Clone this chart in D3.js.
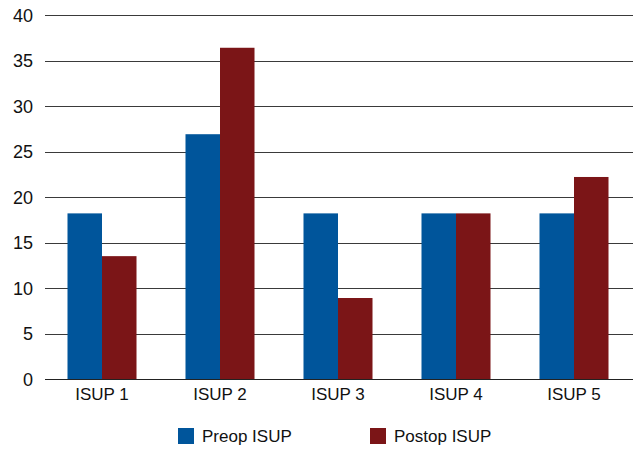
<!DOCTYPE html>
<html>
<head>
<meta charset="utf-8">
<script src="https://cdn.jsdelivr.net/npm/d3@7"></script>
<style>
  body { margin: 0; background: #fff; }
  text { font-family: "Liberation Sans", Arial, sans-serif; fill: #111; }
</style>
</head>
<body>
<div id="chart"></div>
<script>
// data
const categories = ['ISUP 1', 'ISUP 2', 'ISUP 3', 'ISUP 4', 'ISUP 5'];
const seriesNames = ['Preop ISUP', 'Postop ISUP'];
const preopValues = [18.2, 26.9, 18.2, 18.2, 18.2];
const postopValues = [13.5, 36.4, 8.9, 18.2, 22.2];
const yTicks = [0, 5, 10, 15, 20, 25, 30, 35, 40];
const colors = ['#00559b', '#7b1517'];

const W = 633, H = 450;
const MARGIN = { top: 15, right: 0, bottom: 71, left: 43 };

const svg = d3.select('#chart')
    .append('svg')
    .attr('width', W)
    .attr('height', H);

const x0 = d3.scaleBand()
    .domain(categories)
    .range([MARGIN.left, W - MARGIN.right])
    .padding(0);

const x1 = d3.scaleBand()
    .domain(seriesNames)
    .range([0, x0.bandwidth()])
    .paddingInner(0)
    .paddingOuter(0.71);

const y = d3.scaleLinear()
    .domain([0, 40])
    .range([H - MARGIN.bottom, MARGIN.top]);

// gridlines
svg.append('g')
    .selectAll('line')
    .data(yTicks)
    .join('line')
    .attr('x1', MARGIN.left + 2)
    .attr('x2', W)
    .attr('y1', (d) => Math.round(y(d)) + 0.5)
    .attr('y2', (d) => Math.round(y(d)) + 0.5)
    .attr('stroke', '#3a3a3a')
    .attr('stroke-width', 1);

// y tick labels
svg.append('g')
    .selectAll('text')
    .data(yTicks)
    .join('text')
    .attr('x', 33)
    .attr('y', (d) => y(d) + 6.5)
    .attr('text-anchor', 'end')
    .style('font-size', '18px')
    .text((d) => d);

// bars
const rows = categories.map((c, i) => ({
    category: c,
    values: [preopValues[i], postopValues[i]]
}));

const groups = svg.append('g')
    .selectAll('g')
    .data(rows)
    .join('g')
    .attr('transform', (d) => 'translate(' + x0(d.category) + ',0)');

groups.selectAll('rect')
    .data((d) => d.values.map((v, j) => ({ name: seriesNames[j], value: v, color: colors[j] })))
    .join('rect')
    .attr('x', (d) => x1(d.name))
    .attr('width', x1.bandwidth())
    .attr('y', (d) => y(d.value))
    .attr('height', (d) => y(0) - y(d.value))
    .attr('fill', (d) => d.color);

// baseline drawn over bars
svg.append('line')
    .attr('x1', MARGIN.left + 2)
    .attr('x2', W)
    .attr('y1', Math.round(y(0)) + 0.5)
    .attr('y2', Math.round(y(0)) + 0.5)
    .attr('stroke', '#222')
    .attr('stroke-width', 1.2);

// x labels
svg.append('g')
    .selectAll('text')
    .data(categories)
    .join('text')
    .attr('x', (d) => x0(d) + x0.bandwidth() / 2)
    .attr('y', 400)
    .attr('text-anchor', 'middle')
    .style('font-size', '17px')
    .text((d) => d);

// legend
const legendX = [178, 370];
const legend = svg.append('g')
    .selectAll('g')
    .data(seriesNames)
    .join('g')
    .attr('transform', (d, i) => 'translate(' + legendX[i] + ',428)');

legend.append('rect')
    .attr('width', 16)
    .attr('height', 16)
    .attr('fill', (d, i) => colors[i]);

legend.append('text')
    .attr('x', 24)
    .attr('y', 14)
    .style('font-size', '17px')
    .text((d) => d);
</script>
</body>
</html>
